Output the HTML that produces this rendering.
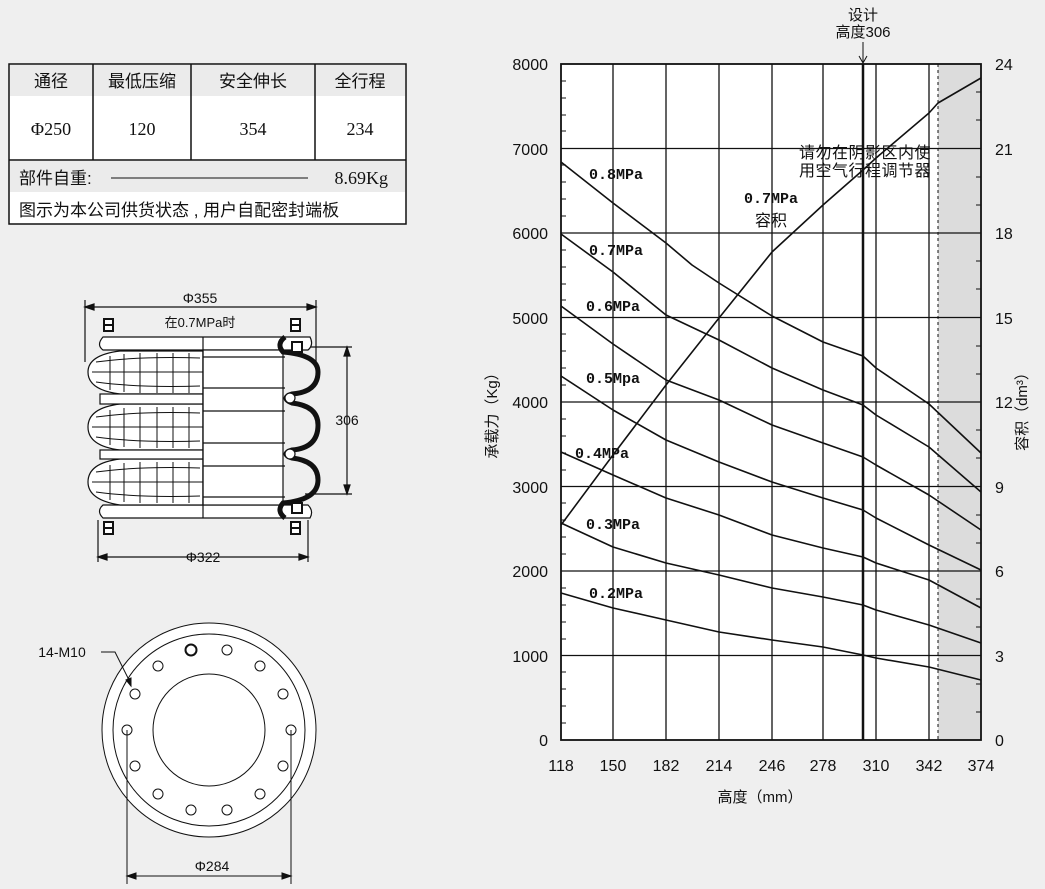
<!DOCTYPE html>
<html><head><meta charset="utf-8"><style>
html,body{margin:0;padding:0;background:#efefef;}
svg{display:block;}
</style></head><body>
<svg width="1045" height="889" viewBox="0 0 1045 889" xmlns="http://www.w3.org/2000/svg">
<rect width="1045" height="889" fill="#efefef"/>
<!-- TABLE -->
<g font-family="'Liberation Serif','Noto Serif CJK SC',serif" fill="#111">
<rect x="9" y="64" width="397" height="160" fill="#fff" stroke="#111" stroke-width="1.5"/>
<rect x="10" y="65" width="395" height="31" fill="#ebebeb"/>
<rect x="10" y="161" width="395" height="31" fill="#ebebeb"/>
<line x1="9" y1="160" x2="406" y2="160" stroke="#111" stroke-width="1.5"/>
<line x1="93" y1="64" x2="93" y2="160" stroke="#111" stroke-width="1.5"/>
<line x1="191" y1="64" x2="191" y2="160" stroke="#111" stroke-width="1.5"/>
<line x1="315" y1="64" x2="315" y2="160" stroke="#111" stroke-width="1.5"/>
<g font-family="'Liberation Sans','Noto Sans CJK SC',sans-serif" font-size="17" text-anchor="middle">
<text x="51" y="87">通径</text><text x="142" y="87">最低压缩</text><text x="253" y="87">安全伸长</text><text x="360" y="87">全行程</text>
</g>
<g font-size="18" text-anchor="middle">
<text x="51" y="135">Φ250</text><text x="142" y="135">120</text><text x="253" y="135">354</text><text x="360" y="135">234</text>
</g>
<text x="19" y="184" font-family="'Liberation Sans','Noto Sans CJK SC',sans-serif" font-size="17">部件自重:</text>
<line x1="111" y1="178" x2="308" y2="178" stroke="#111" stroke-width="1"/>
<text x="388" y="184" font-size="18" text-anchor="end">8.69Kg</text>
<text x="19" y="216" font-family="'Liberation Sans','Noto Sans CJK SC',sans-serif" font-size="17">图示为本公司供货状态 , 用户自配密封端板</text>
</g>

<!-- BELLOWS -->
<g stroke="#111" fill="none" stroke-width="1.2" font-family="'Liberation Sans','Noto Sans CJK SC',sans-serif">
<line x1="85" y1="307" x2="316" y2="307"/>
<path d="M85 307 l9 -3 v6z M316 307 l-9 -3 v6z" fill="#111"/>
<line x1="85" y1="300" x2="85" y2="362"/><line x1="316" y1="300" x2="316" y2="362"/>
<line x1="98" y1="557" x2="308" y2="557"/>
<path d="M98 557 l9 -3 v6z M308 557 l-9 -3 v6z" fill="#111"/>
<line x1="98" y1="520" x2="98" y2="562"/><line x1="308" y1="520" x2="308" y2="562"/>
<line x1="347" y1="347" x2="347" y2="494"/>
<path d="M347 347 l-3 9 h6z M347 494 l-3 -9 h6z" fill="#111"/>
<line x1="305" y1="347" x2="352" y2="347"/><line x1="305" y1="494" x2="352" y2="494"/>
<path d="M103 337 H310 Q314 345 308 350 H103 Q96 345 103 337Z" fill="#fff"/>
<path d="M103 505 H308 Q314 511 310 518 H103 Q96 511 103 505Z" fill="#fff"/>
<g fill="#fff">
<path d="M203 351 H120 Q88 355 88 372 Q88 390 120 394 H203Z"/>
<path d="M203 404 H120 Q88 408 88 427 Q88 446 120 450 H203Z"/>
<path d="M203 459 H120 Q88 463 88 482 Q88 500 120 505 H203Z"/>
<rect x="100" y="394" width="103" height="10"/>
<rect x="100" y="450" width="103" height="9"/>
</g>
<g stroke-width="1">
<path d="M92 372 H203 M92 427 H203 M92 482 H203"/>
<path d="M110 356 V390 M124 354 V392 M140 353 V393 M157 353 V393 M173 353 V393 M189 353 V393"/>
<path d="M110 410 V445 M124 408 V447 M140 407 V448 M157 407 V448 M173 407 V448 M189 407 V448"/>
<path d="M110 465 V500 M124 463 V502 M140 462 V503 M157 462 V503 M173 462 V503 M189 462 V503"/>
<path d="M96 362 Q140 356 200 358 M96 382 Q140 388 200 386 M96 417 Q140 411 200 413 M96 437 Q140 443 200 441 M96 472 Q140 466 200 468 M96 492 Q140 498 200 496"/>
</g>
<rect x="203" y="350" width="80" height="155" fill="#fff"/>
<line x1="203" y1="337" x2="203" y2="518"/>
<path d="M203 357 H285 M203 388 H285 M203 411 H285 M203 443 H285 M203 466 H285 M203 497 H285"/>
<path d="M285 337 Q276 344 283 352 Q318 355 318 372 Q318 392 292 394 Q280 398 292 403 Q318 406 318 425 Q318 448 292 450 Q280 454 292 458 Q318 461 318 480 Q318 500 283 503 Q276 511 285 518" stroke-width="5"/>
<circle cx="290" cy="398" r="5" fill="#fff"/><circle cx="290" cy="454" r="5" fill="#fff"/>
<g fill="#fff" stroke-width="2">
<rect x="104" y="319" width="9" height="12"/><rect x="104" y="522" width="9" height="12"/>
<rect x="291" y="319" width="9" height="12"/><rect x="291" y="522" width="9" height="12"/>
<rect x="292" y="342" width="10" height="10"/><rect x="292" y="503" width="10" height="10"/>
</g>
<path d="M104 325 h9 M104 528 h9 M291 325 h9 M291 528 h9" stroke-width="2"/>
<g stroke="none" fill="#111" font-size="14" text-anchor="middle">
<text x="200" y="303">Φ355</text>
<text x="200" y="327" font-size="13">在0.7MPa时</text>
<text x="347" y="425">306</text>
<text x="203" y="562">Φ322</text>
</g>
</g>

<!-- FLANGE -->
<g stroke="#111" fill="none" stroke-width="1" font-family="'Liberation Sans',sans-serif">
<circle cx="209" cy="730" r="107" fill="#fff"/>
<circle cx="209" cy="730" r="96"/>
<circle cx="209" cy="730" r="56"/>
<g fill="#fff">
<circle cx="291" cy="730" r="5"/><circle cx="283" cy="766" r="5"/><circle cx="260" cy="794" r="5"/><circle cx="227" cy="810" r="5"/>
<circle cx="191" cy="810" r="5"/><circle cx="158" cy="794" r="5"/><circle cx="135" cy="766" r="5"/><circle cx="127" cy="730" r="5"/>
<circle cx="135" cy="694" r="5"/><circle cx="158" cy="666" r="5"/><circle cx="191" cy="650" r="5.5" stroke-width="2"/><circle cx="227" cy="650" r="5"/>
<circle cx="260" cy="666" r="5"/><circle cx="283" cy="694" r="5"/>
</g>
<path d="M101 652 H115 L131 684"/>
<path d="M131 686 l-5 -6 l5 -2z" fill="#111"/>
<line x1="127" y1="730" x2="127" y2="884"/><line x1="291" y1="730" x2="291" y2="884"/>
<line x1="127" y1="876" x2="291" y2="876"/>
<path d="M127 876 l9 -3 v6z M291 876 l-9 -3 v6z" fill="#111"/>
<text x="62" y="657" font-size="14" fill="#111" stroke="none" text-anchor="middle">14-M10</text>
<text x="212" y="871" font-size="14" fill="#111" stroke="none" text-anchor="middle">Φ284</text>
</g>

<!-- CHART -->
<g>
<rect x="561" y="64" width="420" height="676" fill="#fff"/>
<rect x="938" y="64" width="43" height="676" fill="#dcdcdc"/>
<g stroke="#111" stroke-width="1.3">
<path d="M561 148.5H981M561 233H981M561 317.5H981M561 402H981M561 486.5H981M561 571H981M561 655.5H981"/>
<path d="M613 64V740M666 64V740M719 64V740M772 64V740M823 64V740M876 64V740M929 64V740"/>
<line x1="863" y1="64" x2="863" y2="740" stroke-width="2.5"/>
<line x1="938" y1="64" x2="938" y2="740" stroke-dasharray="3,3" stroke-width="1"/>
<rect x="561" y="64" width="420" height="676" fill="none" stroke-width="1.8"/>
<path stroke-width="1" d="M561 81h5M561 98h5M561 115h5M561 131h5M561 165h5M561 182h5M561 199h5M561 216h5M561 250h5M561 267h5M561 284h5M561 300h5M561 334h5M561 351h5M561 368h5M561 385h5M561 419h5M561 436h5M561 453h5M561 470h5M561 503h5M561 520h5M561 537h5M561 554h5M561 588h5M561 605h5M561 622h5M561 639h5M561 672h5M561 689h5M561 706h5M561 723h5"/>
<path stroke-width="1" d="M981 92h-5M981 120h-5M981 177h-5M981 205h-5M981 261h-5M981 289h-5M981 346h-5M981 374h-5M981 430h-5M981 458h-5M981 515h-5M981 543h-5M981 599h-5M981 627h-5M981 684h-5M981 712h-5"/>
<path d="M863 42V63M859 56l4 7l4 -7" fill="none" stroke-width="1"/>
</g>
<g fill="none" stroke="#111" stroke-width="1.6" stroke-linejoin="round">
<polyline points="561,162 613,203 666,243 692,265 719,283 772,316 823,342 863,356 876,368 929,404 981,453"/>
<polyline points="561,234 613,272 666,315 719,340 772,368 823,390 863,405 876,415 929,447 981,492"/>
<polyline points="561,306 613,344 666,380 719,400 772,425 823,443 863,457 876,465 929,495 981,530"/>
<polyline points="561,376 613,410 666,440 719,462 772,482 823,498 863,510 876,518 929,545 981,570"/>
<polyline points="561,452 613,475 666,498 719,515 772,535 823,548 863,557 876,563 929,580 981,608"/>
<polyline points="561,523 613,547 666,563 719,575 772,588 823,597 863,605 876,610 929,625 981,643"/>
<polyline points="561,593 613,608 666,620 719,632 772,640 823,647 863,655 876,658 929,667 981,680"/>
<polyline points="561,525 613,455 666,385 719,318 772,252 823,205 863,170 876,158 929,113 938,103 981,78"/>
</g>
<g font-family="'Liberation Mono','Noto Sans CJK SC',monospace" font-size="15" font-weight="bold" fill="#111">
<text x="589" y="179">0.8MPa</text>
<text x="589" y="255">0.7MPa</text>
<text x="586" y="311">0.6MPa</text>
<text x="586" y="383">0.5Mpa</text>
<text x="575" y="458">0.4MPa</text>
<text x="586" y="529">0.3MPa</text>
<text x="589" y="598">0.2MPa</text>
<text x="744" y="203">0.7MPa</text>
</g>
<g font-family="'Liberation Sans','Noto Sans CJK SC',sans-serif" fill="#111">
<text x="755" y="226" font-size="16">容积</text>
<text x="799" y="158" font-size="16" letter-spacing="0.5">请勿在阴影区内使</text>
<text x="799" y="176" font-size="16" letter-spacing="0.5">用空气行程调节器</text>
<text x="863" y="20" font-size="15" text-anchor="middle">设计</text>
<text x="863" y="37" font-size="15" text-anchor="middle">高度306</text>
</g>
<g font-family="'Liberation Sans',sans-serif" font-size="16" fill="#111" text-anchor="end">
<text x="548" y="70">8000</text><text x="548" y="155">7000</text><text x="548" y="239">6000</text><text x="548" y="324">5000</text>
<text x="548" y="408">4000</text><text x="548" y="493">3000</text><text x="548" y="577">2000</text><text x="548" y="662">1000</text><text x="548" y="746">0</text>
</g>
<g font-family="'Liberation Sans',sans-serif" font-size="16" fill="#111">
<text x="995" y="70">24</text><text x="995" y="155">21</text><text x="995" y="239">18</text><text x="995" y="324">15</text>
<text x="995" y="408">12</text><text x="995" y="493">9</text><text x="995" y="577">6</text><text x="995" y="662">3</text><text x="995" y="746">0</text>
</g>
<g font-family="'Liberation Sans',sans-serif" font-size="16" fill="#111" text-anchor="middle">
<text x="561" y="771">118</text><text x="613" y="771">150</text><text x="666" y="771">182</text><text x="719" y="771">214</text>
<text x="772" y="771">246</text><text x="823" y="771">278</text><text x="876" y="771">310</text><text x="929" y="771">342</text><text x="981" y="771">374</text>
</g>
<g font-family="'Liberation Sans','Noto Sans CJK SC',sans-serif" font-size="15" fill="#111" text-anchor="middle">
<text x="760" y="802">高度（mm）</text>
<text transform="translate(497,412) rotate(-90)">承载力（Kg）</text>
<text transform="translate(1027,408) rotate(-90)">容积（dm³）</text>
</g>
</g>
</svg>
</body></html>
